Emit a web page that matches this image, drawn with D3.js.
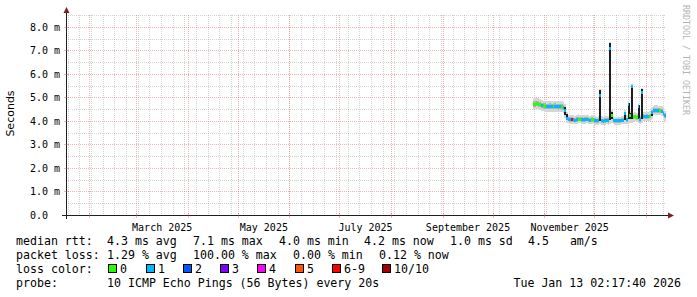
<!DOCTYPE html>
<html>
<head>
<meta charset="utf-8">
<script src="https://cdn.jsdelivr.net/npm/d3@7"></script>
<style>
  body { margin: 0; background: #fff; }
  svg { display: block; }
  text { font-family: "DejaVu Sans Mono", monospace; fill: #000; }
  .legend text { font-size: 11.6px; white-space: pre; }
</style>
</head>
<body>
<svg id="chart"></svg>
<script>
'use strict';

// time range of the graph and first day that has data (daily bins)
const graphEnd = new Date(2026, 0, 13, 2, 17, 40);
const rangeDays = 360;
const firstDay = new Date(2025, 9, 25);

// median rtt per day (ms)
const median = [
  4.72, 4.72, 4.74, 4.72, 4.70, 4.66, 4.64, 4.63, 4.62, 4.62,
  4.63, 4.61, 4.62, 4.63, 4.61, 4.60, 4.62, 4.60, 4.58, 4.45,
  4.12, 4.07, 4.05, 4.06, 4.05, 4.04, 4.06, 4.08, 4.08, 4.06,
  4.05, 4.06, 4.07, 4.05, 4.04, 4.06, 4.05, 4.02, 4.00, 4.02,
  5.08, 4.00, 3.99, 4.01, 4.02, 4.01, 7.10, 4.25, 4.02, 4.00,
  4.00, 4.01, 4.00, 4.02, 4.03, 4.32, 4.05, 4.70, 4.25, 5.45,
  4.16, 4.17, 4.15, 4.60, 4.05, 5.20, 4.18, 4.17, 4.18, 4.17,
  4.20, 4.35, 4.44, 4.45, 4.45, 4.44, 4.43, 4.42, 4.33, 4.22
];

// lost pings out of 10 per day
const loss = [
  0, 0, 0, 0, 0, 1, 0, 0, 1, 1,
  1, 1, 0, 1, 1, 1, 1, 0, 1, 1,
  1, 1, 1, 6, 1, 1, 1, 0, 0, 1,
  1, 1, 1, 1, 1, 0, 0, 1, 1, 1,
  1, 1, 1, 1, 1, 1, 1, 0, 1, 1,
  1, 1, 1, 1, 1, 1, 1, 1, 0, 1,
  0, 0, 0, 1, 1, 1, 1, 1, 1, 1,
  0, 1, 1, 1, 1, 1, 0, 1, 1, 1
];

// smoke: lowest and highest ping per day (ms)
const pingMin = [
  4.48, 4.50, 4.51, 4.49, 4.48, 4.44, 4.42, 4.40, 4.40, 4.39,
  4.40, 4.38, 4.39, 4.40, 4.38, 4.37, 4.39, 4.37, 4.35, 4.13,
  3.93, 3.90, 3.88, 3.89, 3.88, 3.87, 3.89, 3.91, 3.90, 3.89,
  3.88, 3.89, 3.90, 3.88, 3.87, 3.89, 3.88, 3.85, 3.84, 3.85,
  3.86, 3.84, 3.83, 3.85, 3.86, 3.85, 3.88, 3.93, 3.86, 3.84,
  3.84, 3.85, 3.84, 3.86, 3.87, 3.88, 3.88, 3.90, 3.90, 3.92,
  3.97, 3.99, 3.97, 3.92, 3.89, 3.93, 4.00, 3.99, 4.00, 3.99,
  4.02, 4.10, 4.25, 4.26, 4.26, 4.25, 4.24, 4.22, 4.13, 4.02
];
const pingMax = [
  4.95, 4.96, 4.98, 4.96, 4.93, 4.89, 4.87, 4.86, 4.85, 4.86,
  4.87, 4.84, 4.85, 4.86, 4.84, 4.83, 4.85, 4.83, 4.81, 4.73,
  4.38, 4.27, 4.25, 4.26, 4.24, 4.23, 4.25, 4.28, 4.27, 4.25,
  4.24, 4.25, 4.27, 4.24, 4.23, 4.25, 4.24, 4.21, 4.19, 4.21,
  5.36, 4.20, 4.19, 4.21, 4.22, 4.21, 7.35, 4.48, 4.21, 4.19,
  4.19, 4.20, 4.19, 4.21, 4.22, 4.48, 4.24, 4.85, 4.43, 5.57,
  4.36, 4.37, 4.35, 4.73, 4.25, 5.40, 4.38, 4.37, 4.38, 4.37,
  4.41, 4.58, 4.65, 4.66, 4.66, 4.65, 4.64, 4.63, 4.55, 4.43
];

// days where the inner pings spread widely (dark smoke)
const spreadDays = [19, 20, 40, 46, 47, 55, 57, 58, 59, 63, 65, 71];
const spreadLo   = [4.25, 4.06, 4.00, 4.05, 4.08, 4.05, 4.08, 4.08, 4.08, 4.08, 4.10, 4.22];
const spreadHi   = [4.58, 4.30, 5.30, 7.30, 4.40, 4.40, 4.78, 4.35, 5.50, 4.66, 5.35, 4.42];

// axes
const yTicks = [0, 1, 2, 3, 4, 5, 6, 7, 8];
const labelMonths = ['2025-03', '2025-05', '2025-07', '2025-09', '2025-11'];

// legend
const lossLabels = ['0', '1', '2', '3', '4', '5', '6-9', '10/10'];
const lossColors = ['#26ff00', '#00b8ff', '#0059ff', '#7e00ff', '#ff00ff', '#ff5500', '#ff0000', '#a10000'];
const statsRtt  = ['4.3 ms avg', '7.1 ms max', '4.0 ms min', '4.2 ms now', '1.0 ms sd', '4.5   am/s'];
const statsLoss = ['1.29 % avg', '100.00 % max', '0.00 % min', '0.12 % now'];
const probeText = '10 ICMP Echo Pings (56 Bytes) every 20s';
const stampText = 'Tue Jan 13 02:17:40 2026';

const W = 697, H = 297;
const plot = { left: 66, right: 666, top: 15, bottom: 215 };

const svg = d3.select('#chart')
    .attr('width', W)
    .attr('height', H);

svg.append('rect')
    .attr('width', W)
    .attr('height', H)
    .attr('fill', '#fff');

const x = d3.scaleTime()
    .domain([d3.timeDay.offset(graphEnd, -rangeDays), graphEnd])
    .range([plot.left, plot.right]);

const y = d3.scaleLinear()
    .domain([0, 8.51])
    .range([plot.bottom, plot.top]);

const px = v => Math.round(v) + 0.5;
const [t0, t1] = x.domain();

// grid: minor weekly / half ms, major monthly / whole ms
const grid = svg.append('g').attr('stroke-dasharray', '1,1');
const minorCol = 'rgba(143,143,143,0.38)';
const majorCol = 'rgba(222,79,79,0.42)';

const weeks = d3.timeSunday.range(t0, t1);
const months = d3.timeMonth.range(t0, t1);
const halfMs = d3.range(1, 18).map(d => d / 2).filter(d => d % 1 !== 0);

grid.selectAll('.vminor')
    .data(weeks)
  .enter().append('line')
    .attr('x1', d => px(x(d))).attr('x2', d => px(x(d)))
    .attr('y1', plot.top).attr('y2', plot.bottom)
    .attr('stroke', minorCol);

grid.selectAll('.hminor')
    .data(halfMs)
  .enter().append('line')
    .attr('x1', plot.left).attr('x2', plot.right)
    .attr('y1', d => px(y(d))).attr('y2', d => px(y(d)))
    .attr('stroke', minorCol);

grid.selectAll('.vmajor')
    .data(months)
  .enter().append('line')
    .attr('x1', d => px(x(d))).attr('x2', d => px(x(d)))
    .attr('y1', plot.top).attr('y2', plot.bottom)
    .attr('stroke', majorCol);

grid.selectAll('.hmajor')
    .data(yTicks.slice(1))
  .enter().append('line')
    .attr('x1', plot.left).attr('x2', plot.right)
    .attr('y1', d => px(y(d))).attr('y2', d => px(y(d)))
    .attr('stroke', majorCol);

// smoke + median, one bin per day
const days = d3.timeDay.range(firstDay, d3.timeDay.offset(firstDay, median.length));
const bins = days.map((d, i) => ({
  x0: x(d),
  x1: x(d3.timeDay.offset(d, 1)),
  med: median[i],
  lo: pingMin[i],
  hi: pingMax[i],
  loss: loss[i]
}));

const data = svg.append('g').attr('shape-rendering', 'crispEdges');

data.selectAll('.smoke')
    .data(bins)
  .enter().append('rect')
    .attr('x', d => d.x0)
    .attr('width', d => d.x1 - d.x0)
    .attr('y', d => y(d.hi))
    .attr('height', d => y(d.lo) - y(d.hi))
    .attr('fill', '#d6d6d6');

data.selectAll('.smoke2')
    .data(bins)
  .enter().append('rect')
    .attr('x', d => d.x0)
    .attr('width', d => d.x1 - d.x0)
    .attr('y', d => y((d.hi + d.med) / 2))
    .attr('height', d => y((d.lo + d.med) / 2) - y((d.hi + d.med) / 2))
    .attr('fill', '#b2b2b2');

data.selectAll('.spread')
    .data(spreadDays)
  .enter().append('rect')
    .attr('x', d => bins[d].x0)
    .attr('width', d => bins[d].x1 - bins[d].x0 + 0.6)
    .attr('y', (d, i) => y(spreadHi[i]))
    .attr('height', (d, i) => y(spreadLo[i]) - y(spreadHi[i]))
    .attr('fill', '#1e1e1e');

const lossIndex = l => l >= 10 ? 7 : l >= 6 ? 6 : l;

data.selectAll('.median')
    .data(bins)
  .enter().append('rect')
    .attr('x', d => d.x0)
    .attr('width', d => d.x1 - d.x0)
    .attr('y', d => y(d.med) - 1.5)
    .attr('height', 3)
    .attr('fill', d => lossColors[lossIndex(d.loss)]);

// axes
const axisCol = '#1f1f1f', arrowCol = '#801f1f';

svg.append('line')
    .attr('x1', plot.left - 4).attr('x2', plot.right + 3)
    .attr('y1', plot.bottom + 0.5).attr('y2', plot.bottom + 0.5)
    .attr('stroke', axisCol);
svg.append('line')
    .attr('x1', plot.left + 0.5).attr('x2', plot.left + 0.5)
    .attr('y1', plot.bottom + 4).attr('y2', plot.top - 3)
    .attr('stroke', axisCol);

svg.append('path')
    .attr('d', `M${plot.right + 2},${plot.bottom - 2.5}L${plot.right + 8},${plot.bottom + 0.5}L${plot.right + 2},${plot.bottom + 3.5}Z`)
    .attr('fill', arrowCol);
svg.append('path')
    .attr('d', `M${plot.left - 2.5},${plot.top - 2}L${plot.left + 0.5},${plot.top - 8}L${plot.left + 3.5},${plot.top - 2}Z`)
    .attr('fill', arrowCol);

// tick marks on the axes
const ticks = svg.append('g');
ticks.selectAll('.xt')
    .data(months)
  .enter().append('line')
    .attr('x1', d => px(x(d))).attr('x2', d => px(x(d)))
    .attr('y1', plot.bottom - 2).attr('y2', plot.bottom + 3)
    .attr('stroke', majorCol);
ticks.selectAll('.yt')
    .data(yTicks.slice(1))
  .enter().append('line')
    .attr('x1', plot.left - 2).attr('x2', plot.left + 3)
    .attr('y1', d => px(y(d))).attr('y2', d => px(y(d)))
    .attr('stroke', majorCol);

// y labels
const yAxis = d3.axisLeft(y)
    .tickValues(yTicks)
    .tickSize(0)
    .tickFormat(d => d === 0 ? '0.0' : `${d3.format('.1f')(d)} m`);

svg.append('g')
    .attr('transform', `translate(${plot.left},0)`)
    .call(yAxis)
    .call(g => g.select('.domain').remove())
    .call(g => g.selectAll('text')
        .attr('x', 30 - plot.left)
        .attr('text-anchor', 'start')
        .attr('font-size', 10)
        .attr('font-family', '"DejaVu Sans Mono", monospace')
        .attr('fill', '#000'));

// x labels centred in their month
const parseMonth = d3.timeParse('%Y-%m');
const labelDates = labelMonths.map(m => {
  const a = parseMonth(m), b = d3.timeMonth.offset(a, 1);
  return new Date((+a + +b) / 2);
});

const xAxis = d3.axisBottom(x)
    .tickValues(labelDates)
    .tickSize(0)
    .tickPadding(9)
    .tickFormat(d3.timeFormat('%B %Y'));

svg.append('g')
    .attr('transform', `translate(0,${plot.bottom})`)
    .call(xAxis)
    .call(g => g.select('.domain').remove())
    .call(g => g.selectAll('text')
        .attr('font-size', 10)
        .attr('font-family', '"DejaVu Sans Mono", monospace')
        .attr('fill', '#000'));

// vertical titles
svg.append('text')
    .attr('transform', 'translate(14,113.5) rotate(-90)')
    .attr('text-anchor', 'middle')
    .style('font-family', '"DejaVu Sans", sans-serif')
    .style('font-size', '11px')
    .text('Seconds');

svg.append('text')
    .attr('transform', 'translate(683,5) rotate(90)')
    .style('font-size', '8.3px')
    .style('fill', '#b4b4b4')
    .text('RRDTOOL / TOBI OETIKER');

// legend
const legend = svg.append('g').attr('class', 'legend');
const rows = [245, 259, 273, 287];

legend.append('text').attr('x', 16).attr('y', rows[0]).text('median rtt:');
[107, 193, 279, 364, 450, 528].forEach((lx, i) =>
  legend.append('text').attr('x', lx).attr('y', rows[0]).text(statsRtt[i]));

legend.append('text').attr('x', 16).attr('y', rows[1]).text('packet loss:');
[107, 193, 293, 379].forEach((lx, i) =>
  legend.append('text').attr('x', lx).attr('y', rows[1]).text(statsLoss[i]));

legend.append('text').attr('x', 16).attr('y', rows[2]).text('loss color:');
const boxX = [108, 146, 183, 220, 257, 295, 332, 382];
const sw = legend.selectAll('.sw')
    .data(lossLabels)
  .enter().append('g')
    .attr('transform', (d, i) => `translate(${boxX[i]},${rows[2]})`);
sw.append('rect')
    .attr('x', 0.5).attr('y', -8.5)
    .attr('width', 8).attr('height', 8)
    .attr('fill', (d, i) => lossColors[i])
    .attr('stroke', '#000');
sw.append('text')
    .attr('x', 12)
    .text(d => d);

legend.append('text').attr('x', 16).attr('y', rows[3]).text('probe:');
legend.append('text').attr('x', 107).attr('y', rows[3]).text(probeText);
legend.append('text').attr('x', 681).attr('y', rows[3]).attr('text-anchor', 'end').text(stampText);
</script>
</body>
</html>
